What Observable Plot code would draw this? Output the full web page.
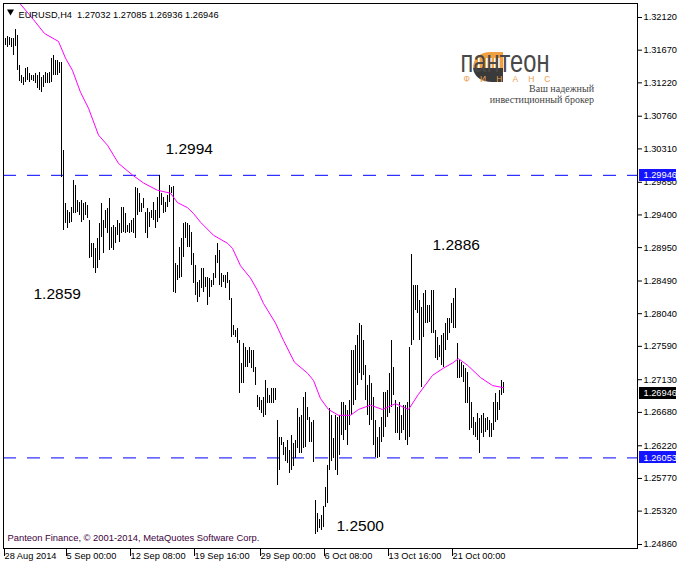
<!DOCTYPE html>
<html>
<head>
<meta charset="utf-8">
<script src="https://cdn.jsdelivr.net/npm/d3@7"></script>
<script src="https://cdn.jsdelivr.net/npm/@observablehq/plot@0.6"></script>
<style>
  html, body { margin: 0; padding: 0; background: #fff; }
  #chart { width: 680px; height: 566px; }
</style>
</head>
<body>
<div id="chart"></div>
<script>
// ---- data: H4 bars (high / low), index 0 = 28 Aug 2014 20:00 ----
const barHigh = [
  1.3185, 1.3183, 1.3186, 1.3185, 1.3183, 1.3183, 1.3196, 1.3187, 1.3146, 1.3132,
  1.3129, 1.3142, 1.3143, 1.3135, 1.3132, 1.3132, 1.3135, 1.3132, 1.3136, 1.3129,
  1.3132, 1.3136, 1.3135, 1.3136, 1.3156, 1.3160, 1.3153, 1.3153, 1.3150, 1.3150,
  1.3029, 1.2956, 1.2946, 1.2943, 1.2950, 1.2988, 1.2981, 1.2960, 1.2957, 1.2960,
  1.2956, 1.2957, 1.2953, 1.2932, 1.2901, 1.2901, 1.2894, 1.2908, 1.2928, 1.2956,
  1.2932, 1.2946, 1.2949, 1.2963, 1.2923, 1.2926, 1.2923, 1.2932, 1.2928, 1.2950,
  1.2950, 1.2942, 1.2926, 1.2928, 1.2932, 1.2935, 1.2978, 1.2976, 1.2970, 1.2956,
  1.2963, 1.2943, 1.2949, 1.2943, 1.2946, 1.2957, 1.2946, 1.2964, 1.2995, 1.2970,
  1.2964, 1.2957, 1.2967, 1.2981, 1.2978, 1.2979, 1.2873, 1.2870, 1.2895, 1.2908,
  1.2928, 1.2930, 1.2928, 1.2926, 1.2916, 1.2887, 1.2870, 1.2847, 1.2850, 1.2866,
  1.2866, 1.2854, 1.2854, 1.2852, 1.2850, 1.2859, 1.2884, 1.2901, 1.2891, 1.2859,
  1.2857, 1.2857, 1.2861, 1.2850, 1.2825, 1.2788, 1.2781, 1.2784, 1.2767, 1.2735,
  1.2763, 1.2757, 1.2753, 1.2757, 1.2753, 1.2753, 1.2730, 1.2691, 1.2689, 1.2684,
  1.2689, 1.2712, 1.2701, 1.2691, 1.2701, 1.2701, 1.2701, 1.2657, 1.2633, 1.2633,
  1.2626, 1.2619, 1.2629, 1.2615, 1.2636, 1.2625, 1.2629, 1.2673, 1.2661, 1.2664,
  1.2689, 1.2695, 1.2675, 1.2661, 1.2654, 1.2657, 1.2546, 1.2529, 1.2521, 1.2526,
  1.2539, 1.2564, 1.2595, 1.2673, 1.2664, 1.2632, 1.2664, 1.2661, 1.2664, 1.2681,
  1.2682, 1.2678, 1.2671, 1.2684, 1.2753, 1.2753, 1.2760, 1.2774, 1.2790, 1.2788,
  1.2767, 1.2733, 1.2705, 1.2719, 1.2708, 1.2689, 1.2657, 1.2633, 1.2647, 1.2661,
  1.2695, 1.2695, 1.2698, 1.2722, 1.2767, 1.2730, 1.2684, 1.2675, 1.2681, 1.2664,
  1.2678, 1.2678, 1.2681, 1.2757, 1.2886, 1.2843, 1.2843, 1.2843, 1.2822, 1.2812,
  1.2832, 1.2836, 1.2815, 1.2815, 1.2836, 1.2836, 1.2781, 1.2771, 1.2760, 1.2774,
  1.2777, 1.2791, 1.2797, 1.2797, 1.2818, 1.2825, 1.2839, 1.2763, 1.2740, 1.2737,
  1.2733, 1.2729, 1.2723, 1.2702, 1.2682, 1.2661, 1.2654, 1.2667, 1.2660, 1.2664,
  1.2667, 1.2660, 1.2661, 1.2657, 1.2653, 1.2681, 1.2694, 1.2682, 1.2698, 1.2712, 1.27085
];
const barLow = [
  1.3160, 1.3174, 1.3171, 1.3174, 1.3170, 1.3160, 1.3172, 1.3139, 1.3124, 1.3121,
  1.3118, 1.3123, 1.3125, 1.3123, 1.3125, 1.3124, 1.3121, 1.3114, 1.3112, 1.3109,
  1.3116, 1.3121, 1.3121, 1.3121, 1.3123, 1.3132, 1.3132, 1.3132, 1.3135, 1.2992,
  1.2919, 1.2928, 1.2921, 1.2928, 1.2930, 1.2942, 1.2942, 1.2943, 1.2939, 1.2930,
  1.2932, 1.2939, 1.2935, 1.2880, 1.2881, 1.2866, 1.2859, 1.2866, 1.2877, 1.2909,
  1.2887, 1.2921, 1.2915, 1.2891, 1.2894, 1.2891, 1.2901, 1.2912, 1.2902, 1.2915,
  1.2916, 1.2915, 1.2916, 1.2915, 1.2916, 1.2915, 1.2908, 1.2939, 1.2943, 1.2943,
  1.2949, 1.2915, 1.2908, 1.2923, 1.2935, 1.2932, 1.2921, 1.2930, 1.2935, 1.2953,
  1.2942, 1.2943, 1.2950, 1.2957, 1.2970, 1.2833, 1.2832, 1.2850, 1.2852, 1.2854,
  1.2881, 1.2908, 1.2895, 1.2895, 1.2870, 1.2846, 1.2829, 1.2819, 1.2826, 1.2839,
  1.2833, 1.2840, 1.2815, 1.2826, 1.2840, 1.2843, 1.2852, 1.2873, 1.2843, 1.2840,
  1.2847, 1.2839, 1.2846, 1.2822, 1.2771, 1.2774, 1.2771, 1.2763, 1.2694, 1.2708,
  1.2708, 1.2730, 1.2730, 1.2735, 1.2729, 1.2723, 1.2705, 1.2675, 1.2671, 1.2666,
  1.2661, 1.2664, 1.2680, 1.2680, 1.2680, 1.2680, 1.2684, 1.2567, 1.2588, 1.2622,
  1.2608, 1.2601, 1.2597, 1.2584, 1.2588, 1.2594, 1.2605, 1.2618, 1.2611, 1.2611,
  1.2618, 1.2619, 1.2657, 1.2626, 1.2626, 1.2599, 1.2500, 1.2503, 1.2508, 1.2505,
  1.2509, 1.2537, 1.2543, 1.2588, 1.2601, 1.2604, 1.2588, 1.2581, 1.2608, 1.2636,
  1.2629, 1.2643, 1.2622, 1.2650, 1.2664, 1.2678, 1.2684, 1.2705, 1.2722, 1.2712,
  1.2719, 1.2684, 1.2664, 1.2650, 1.2657, 1.2622, 1.2606, 1.2605, 1.2606, 1.2626,
  1.2633, 1.2647, 1.2661, 1.2666, 1.2675, 1.2691, 1.2639, 1.2639, 1.2629, 1.2639,
  1.2643, 1.2629, 1.2622, 1.2633, 1.2760, 1.2767, 1.2808, 1.2804, 1.2767, 1.2702,
  1.2771, 1.2790, 1.2790, 1.2792, 1.2777, 1.2777, 1.2742, 1.2740, 1.2743, 1.2733,
  1.2730, 1.2753, 1.2767, 1.2777, 1.2791, 1.2784, 1.2784, 1.2715, 1.2715, 1.2716,
  1.2709, 1.2680, 1.2680, 1.2643, 1.2646, 1.2636, 1.2633, 1.2629, 1.2611, 1.2639,
  1.2633, 1.2640, 1.2643, 1.2633, 1.2633, 1.2643, 1.2654, 1.2657, 1.2671, 1.2691, 1.26936
];
// moving average (magenta), read at selected bar positions
const maIndex = [3, 6.8, 15, 20.5, 27.5, 31, 34.5, 38.5, 42.5, 47.5, 52, 57.5, 64.5, 70, 77, 83.5, 87, 92, 95, 98.5,
  105, 112, 114.5, 118.5, 123.5, 127, 130, 136, 140, 145.5, 152, 155, 158.5, 162.5, 167.5, 173.5, 177.5, 183.5, 189.5, 196,
  202.5, 207.5, 214.5, 220, 224.5, 227.5, 232, 238.5, 244.5, 250];
const maValue = [1.3260, 1.3236, 1.3209, 1.3190, 1.3179, 1.3156, 1.3139, 1.3109, 1.3087, 1.3050, 1.3036, 1.3011, 1.2995, 1.2984, 1.2974, 1.2970, 1.2957, 1.2950, 1.2942, 1.2930,
  1.2912, 1.2901, 1.2894, 1.2870, 1.2853, 1.2836, 1.2818, 1.2791, 1.2767, 1.2737, 1.2722, 1.2712, 1.2687, 1.2672, 1.2664, 1.2664, 1.2672, 1.2678, 1.2672, 1.2680,
  1.2672, 1.2693, 1.2719, 1.2729, 1.2736, 1.2742, 1.2733, 1.2716, 1.2705, 1.2702];
const priceTicks = [1.32120, 1.31670, 1.31220, 1.30760, 1.30310, 1.29850, 1.29400, 1.28950, 1.28490,
  1.28040, 1.27590, 1.27130, 1.26680, 1.26220, 1.25770, 1.25320, 1.24860];
const timeTickIndex = [0, 31, 63, 95, 128, 160, 192, 224];
const timeTickLabels = ["28 Aug 2014", "5 Sep 00:00", "12 Sep 08:00", "19 Sep 16:00", "29 Sep 00:00",
  "6 Oct 08:00", "13 Oct 16:00", "21 Oct 00:00"];
const levelPrices = [1.29946, 1.26053];
const lastPrice = 1.26946;
const header = "EURUSD,H4  1.27032 1.27085 1.26936 1.26946";
const copyright = "Panteon Finance, \u00a9 2001-2014, MetaQuotes Software Corp.";
const noteText = ["1.2994", "1.2859", "1.2886", "1.2500"];
const noteIndex = [81, 15, 214.5, 166.5];
const notePrice = [1.3031, 1.2831, 1.2898, 1.2512];

// ---- build ----
const bars = barHigh.map((h, i) => ({i, high: h, low: barLow[i]}));
const ma = maIndex.map((i, k) => ({i, v: maValue[k]}));
const notes = noteText.map((t, k) => ({t, i: noteIndex[k], p: notePrice[k]}));
const tags = [
  {p: levelPrices[0], c: "#1414ff"},
  {p: levelPrices[1], c: "#1414ff"},
  {p: lastPrice, c: "#000000"}
];
const font = "'Liberation Sans', Arial, sans-serif";

const chart = Plot.plot({
  width: 680, height: 566,
  marginTop: 3, marginLeft: 3, marginRight: 43, marginBottom: 18,
  style: {fontFamily: font, fontSize: "9.25px", background: "#fff", color: "#000"},
  x: {type: "linear", domain: [0, 317]},
  y: {type: "linear", domain: [1.24805, 1.32313]},
  marks: [
    Plot.ruleY(levelPrices, {stroke: "#0000ff", strokeDasharray: "13,11"}),
    Plot.ruleX(bars, {x: "i", y1: "low", y2: "high", stroke: "#000", shapeRendering: "crispEdges"}),
    Plot.line(ma, {x: "i", y: "v", stroke: "#ff00ff", strokeWidth: 1, clip: true}),
    Plot.frame({stroke: "#000", shapeRendering: "crispEdges"}),
    Plot.axisY({anchor: "right", ticks: priceTicks, tickFormat: d => d.toFixed(5), tickSize: 4, tickPadding: 2, label: null}),
    Plot.axisX({ticks: timeTickIndex, tickFormat: d => timeTickLabels[timeTickIndex.indexOf(d)],
      tickSize: 8, tickPadding: -4, textAnchor: "start", dx: 1, label: null}),
    Plot.rect(tags, {y1: "p", y2: "p", x1: 318, x2: 336.5, fill: "c", insetTop: -6, insetBottom: -6, shapeRendering: "crispEdges"}),
    Plot.text(tags, {y: "p", text: d => d.p.toFixed(5), frameAnchor: "right", textAnchor: "start", dx: 6, fill: "#fff"}),
    Plot.text(notes, {x: "i", y: "p", text: "t", textAnchor: "start", fontSize: 15.5, fill: "#000"}),
    Plot.text([header], {frameAnchor: "top-left", dx: 15, dy: 8, textAnchor: "start", fill: "#000"}),
    Plot.dot([0], {frameAnchor: "top-left", dx: 7, dy: 8, symbol: "triangle", r: 2.6, rotate: 180, fill: "#000", stroke: null}),
    Plot.text([copyright], {frameAnchor: "bottom-left", dx: 4, dy: -8, textAnchor: "start", fontSize: 9.4, fill: "#3c003c"})
  ]
});

// ---- logo (decoration) ----
const svg = d3.select(chart);
const g = svg.append("g");
g.append("path").attr("d", "M473,68 C473,58 480,52 491,52 L503,52 L503,68 Z").attr("fill", "#f0a040");
[478, 482, 486, 490, 494, 498].forEach(x =>
  g.append("rect").attr("x", x).attr("y", 58).attr("width", 1.6).attr("height", 10).attr("fill", "#fff"));
g.append("path").attr("d", "M473,68 L503,68 L503,82 L492,82 C482,82 474,77 473,68 Z").attr("fill", "#3a3a3a");
const brand = g.append("text").attr("font-family", font);
brand.append("tspan").attr("x", 505).attr("y", 72).attr("font-size", 32)
  .attr("textLength", 89).attr("lengthAdjust", "spacingAndGlyphs").attr("fill", "#484848").text("пантеон");
brand.append("tspan").attr("x", 507).attr("y", 81.5).attr("font-size", 8.5)
  .attr("textLength", 87).attr("lengthAdjust", "spacing").attr("fill", "#f0a050").text("ФИНАНС");
const slogan = g.append("text").attr("font-family", "'Liberation Serif', serif").attr("font-size", 10)
  .attr("text-anchor", "end").attr("fill", "#444");
slogan.append("tspan").attr("x", 594).attr("y", 92).text("Ваш надежный");
slogan.append("tspan").attr("x", 594).attr("y", 103).text("инвестиционный брокер");

document.getElementById("chart").appendChild(chart);
</script>
</body>
</html>
